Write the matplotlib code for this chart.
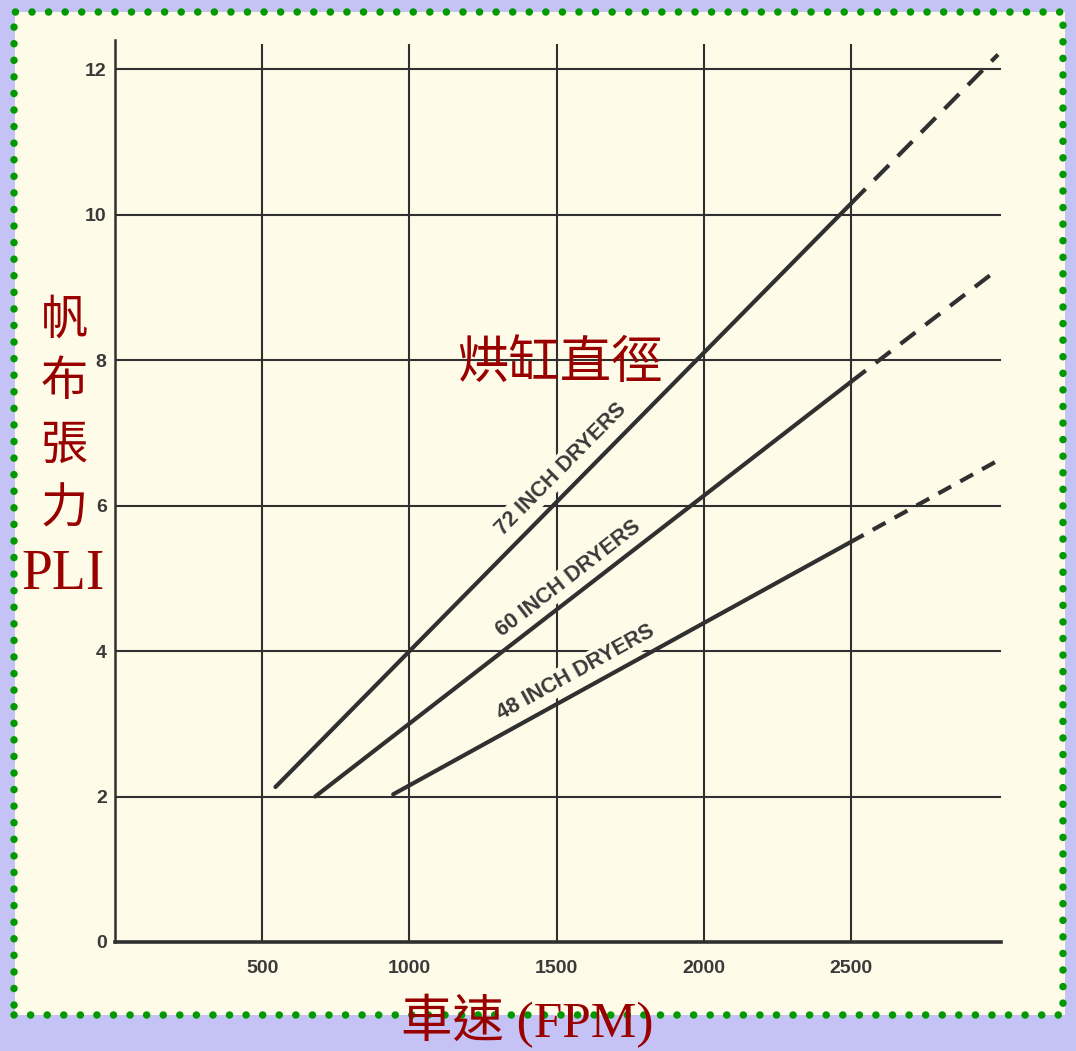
import matplotlib
matplotlib.use("Agg")
import matplotlib.pyplot as plt
from matplotlib.patches import Rectangle
import numpy as np

# ---- data -------------------------------------------------------------
x_ticks = [500, 1000, 1500, 2000, 2500]
y_ticks = [0, 2, 4, 6, 8, 10, 12]

# felt tension (PLI) vs. machine speed (FPM) for each dryer diameter
speed_72 = [545, 2500, 3000]
pli_72 = [2.13, 10.15, 12.2]
speed_60 = [680, 2500, 3000]
pli_60 = [2.0, 7.7, 9.25]
speed_48 = [945, 2500, 3000]
pli_48 = [2.03, 5.5, 6.62]

labels = ["72 INCH DRYERS", "60 INCH DRYERS", "48 INCH DRYERS"]
label_pos = [(1515, 6.5), (1540, 5.0), (1565, 3.7)]

# ---- style ------------------------------------------------------------
W, H = 1076, 1051
LAVENDER = "#c5c3f6"
CREAM = "#fefce8"
INK = "#303030"
RED = "#990000"
CJK = ["Noto Sans CJK TC", "DejaVu Sans"]
SERIF_CJK = ["Liberation Serif", "Noto Sans CJK TC"]

fig = plt.figure(figsize=(W / 100, H / 100), dpi=100)
fig.patch.set_facecolor(LAVENDER)

def fx(px):
    return px / W

def fy(py):
    return 1 - py / H

# paper panel with dotted green frame
panel = Rectangle((fx(15), fy(1015)), fx(1065) - fx(15), fy(12) - fy(1015),
                  transform=fig.transFigure, facecolor=CREAM, edgecolor="none", zorder=-5)
fig.patches.append(panel)
frame = Rectangle((fx(14), fy(1015)), fx(1063) - fx(14), fy(12) - fy(1015),
                  transform=fig.transFigure, facecolor="none", edgecolor="#009a00",
                  linewidth=5.4, linestyle=(0, (0.01, 2.2)), capstyle="round", zorder=5)
fig.patches.append(frame)

ax = fig.add_axes([fx(115), fy(942), fx(1001) - fx(115), fy(40) - fy(942)])
ax.set_facecolor("none")
ax.set_xlim(0, 3010)
ax.set_ylim(0, 12.4)

for s in ("top", "right"):
    ax.spines[s].set_visible(False)
ax.spines["left"].set_linewidth(1.8)
ax.spines["left"].set_color(INK)
ax.spines["bottom"].set_linewidth(2.6)
ax.spines["bottom"].set_color(INK)

ax.set_xticks(x_ticks)
ax.set_yticks(y_ticks)
ax.tick_params(length=0, colors="#3a3a3a", labelsize=14)
ax.tick_params(axis="x", pad=13)
ax.tick_params(axis="y", pad=6)
for lab in ax.get_xticklabels() + ax.get_yticklabels():
    lab.set_fontfamily("Liberation Sans")
    lab.set_fontweight("bold")

# grid
for yv in y_ticks[1:]:
    ax.axhline(yv, color=INK, linewidth=1.5, zorder=1)
ax.vlines(x_ticks, 0, 12.35, colors=INK, linewidth=1.5, zorder=1)

# curves: solid up to 2500 FPM, dashed beyond
series = [(speed_72, pli_72, (5, 3)), (speed_60, pli_60, (4.5, 3)), (speed_48, pli_48, (3.5, 2.5))]
for sp, pl, dash in series:
    ax.plot(sp[:2], pl[:2], color=INK, linewidth=3.0, solid_capstyle="round", zorder=3)
    ax.plot(sp[1:], pl[1:], color=INK, linewidth=3.0, linestyle=(0, dash), zorder=3)

# rotated curve labels
for (sp, pl, _), text, (lx, ly) in zip(series, labels, label_pos):
    p0 = ax.transData.transform((sp[0], pl[0]))
    p1 = ax.transData.transform((sp[1], pl[1]))
    ang = np.degrees(np.arctan2(p1[1] - p0[1], p1[0] - p0[0]))
    ax.text(lx, ly, text, rotation=ang, rotation_mode="anchor", ha="center", va="center",
            fontsize=15.5, fontweight="bold", color="#3a3a3a", family="Liberation Sans",
            bbox=dict(facecolor=CREAM, edgecolor="none", pad=2.0), zorder=4)

# Chinese annotations
fig.text(fx(560), fy(363), "烘缸直徑", fontsize=37, color=RED, family=CJK,
         ha="center", va="center", zorder=6)
for ch, py in zip("帆布張力", [320, 382, 446, 509]):
    fig.text(fx(64), fy(py), ch, fontsize=34, color=RED, family=CJK,
             ha="center", va="center", zorder=6)
fig.text(fx(63), fy(575), "PLI", fontsize=40, color=RED, family="Liberation Serif",
         ha="center", va="center", zorder=6)
fig.text(fx(527), fy(1021), "車速 (FPM)", fontsize=37, color=RED, family=SERIF_CJK,
         ha="center", va="center", zorder=6)

fig.savefig("out.png", dpi=100, facecolor=fig.get_facecolor())
